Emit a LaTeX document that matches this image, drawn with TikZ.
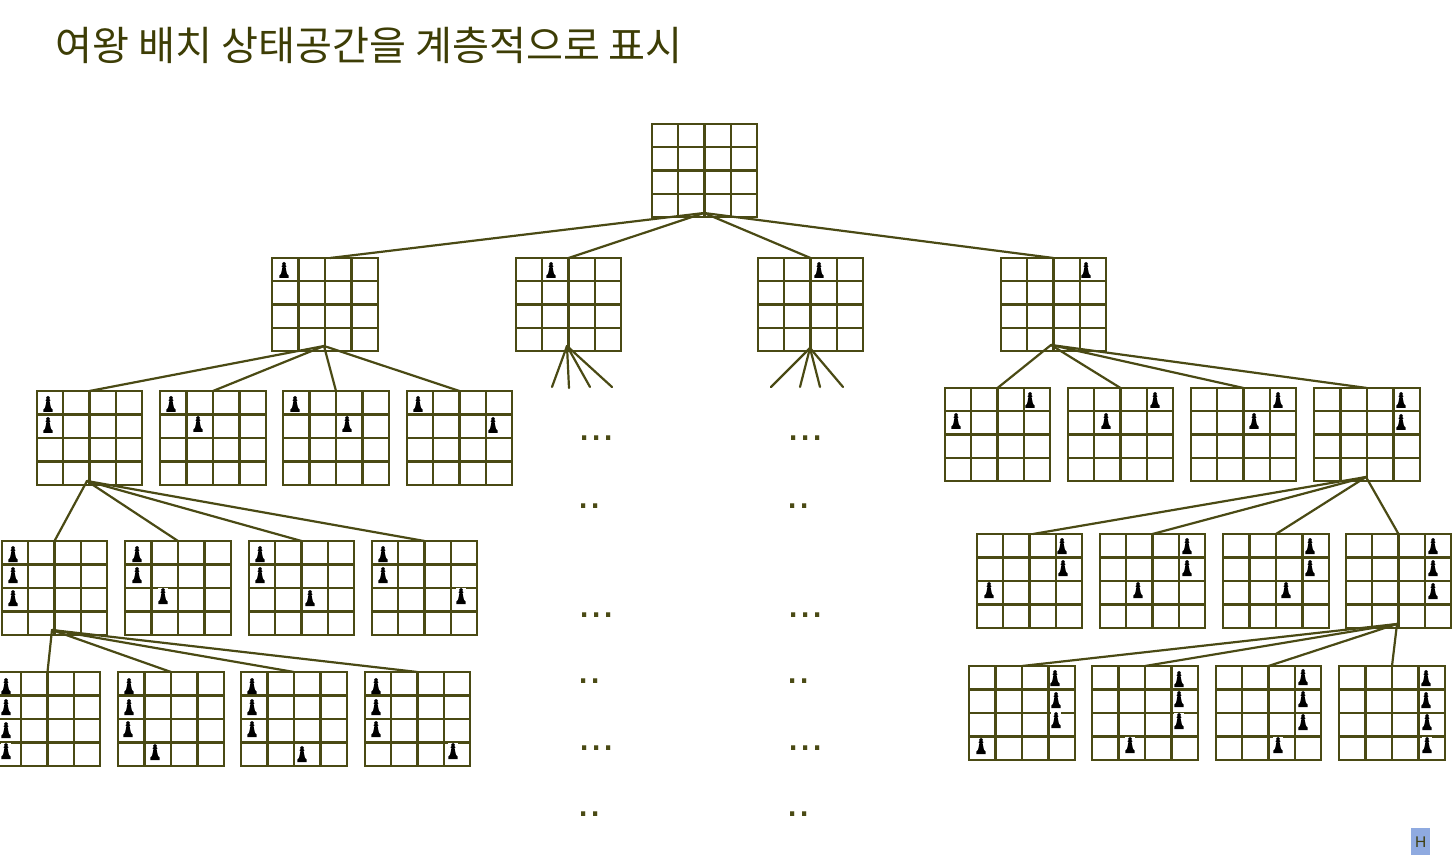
\documentclass[tikz,border=0pt]{standalone}
\usepackage{fontspec}
\newfontfamily\krfont{Noto Sans CJK KR}
\setmainfont{Liberation Sans}
\definecolor{ink}{HTML}{4A4A14}
\definecolor{titleink}{HTML}{3D3D05}
\definecolor{tagblue}{HTML}{8FAAE0}
\tikzset{
  boardbox/.style={draw=ink,line width=2.3pt,inner sep=0pt,outer sep=0pt},
  gridline/.style={draw=ink,line width=2.2pt},
  link/.style={draw=ink,line width=2.2pt,line cap=round},
  dotrow/.style={text=ink,inner sep=0pt,font=\fontsize{44}{44}\selectfont},
}
\newcommand{\boardat}[5]{%
  \node[boardbox,minimum width=#4pt-#2pt,minimum height=#5pt-#3pt,anchor=north west] (#1) at (#2,#3) {};
  \pgfmathsetmacro{\bw}{(#4-#2)/4}\pgfmathsetmacro{\bh}{(#5-#3)/4}
  \foreach \k in {1,2,3}{
    \draw[gridline] ({#2+\k*\bw},#3) -- ({#2+\k*\bw},#5);
    \draw[gridline] (#2,{#3+\k*\bh}) -- (#4,{#3+\k*\bh});
  }}
\newcommand{\piece}[2]{%
  \begin{scope}[shift={(#1,#2)}]
    \fill[white] (-4.6,-8.2) rectangle (4.6,8.2);
    \fill[black] (-4.6,8) -- (4.6,8) -- (4.6,5.6) -- (2.9,3.6) -- (1.5,-3) -- (2.6,-3.8) -- (1.5,-4.6)
      .. controls (2.4,-6) and (1.8,-8) .. (0,-8) .. controls (-1.8,-8) and (-2.4,-6) .. (-1.5,-4.6)
      -- (-2.6,-3.8) -- (-1.5,-3) -- (-2.9,3.6) -- (-4.6,5.6) -- cycle;
  \end{scope}}
\begin{document}
\begin{tikzpicture}[x=1pt,y=-1pt]
\useasboundingbox (0,0) rectangle (1452,858);
\node[anchor=west,inner sep=0pt,text=titleink,font=\krfont\fontsize{40.2}{44}\selectfont] (title) at (55,45) {여왕 배치 상태공간을 계층적으로 표시};

% boards
\boardat{r}{652}{124}{757}{217}
\boardat{a}{272}{258}{378}{351}
\boardat{b}{516}{258}{621}{351}
\boardat{c}{758}{258}{863}{351}
\boardat{d}{1001}{258}{1106}{351}
\boardat{aa}{37}{391}{142}{485}
\boardat{ab}{160}{391}{266}{485}
\boardat{ac}{283}{391}{389}{485}
\boardat{ad}{407}{391}{512}{485}
\boardat{da}{945}{388}{1050}{481}
\boardat{db}{1068}{388}{1173}{481}
\boardat{dc}{1191}{388}{1296}{481}
\boardat{dd}{1314}{388}{1420}{481}
\boardat{aaa}{2}{541}{107}{635}
\boardat{aab}{125}{541}{231}{635}
\boardat{aac}{249}{541}{354}{635}
\boardat{aad}{372}{541}{477}{635}
\boardat{dda}{977}{534}{1082}{628}
\boardat{ddb}{1100}{534}{1205}{628}
\boardat{ddc}{1223}{534}{1329}{628}
\boardat{ddd}{1346}{534}{1451}{628}
\boardat{aaaa}{-5}{672}{100}{766}
\boardat{aaab}{118}{672}{224}{766}
\boardat{aaac}{241}{672}{347}{766}
\boardat{aaad}{365}{672}{470}{766}
\boardat{ddda}{969}{666}{1075}{760}
\boardat{dddb}{1092}{666}{1198}{760}
\boardat{dddc}{1216}{666}{1321}{760}
\boardat{dddd}{1339}{666}{1445}{760}

% pieces
\foreach \px/\py in {284/270,551/270,819/270,1086/270,
 48/404,48/425,171/404,198/424,295/404,347/424,418/404,493/425,
 1030/400,956/421,1155/400,1106/421,1278/400,1254/421,1401/400,1401/422,
 13/554,13/575,13/598,137/554,137/575,163/596,260/554,260/575,310/598,383/554,383/575,461/596,
 1062/546,1063/568,989/590,1187/546,1187/568,1138/590,1310/546,1310/568,1286/590,1433/546,1433/568,1433/591,
 6/686,6/707,6/730,6/751,129/686,129/707,128/729,155/752,252/686,252/707,252/729,302/754,376/686,376/707,376/729,453/751,
 1055/678,1056/700,1056/720,981/746,1179/679,1179/699,1179/721,1130/745,1303/677,1303/699,1303/722,1278/745,1426/678,1426/700,1427/722,1427/745}
 {\piece{\px}{\py}}

% connector hubs and ends
\coordinate (rh) at (704,213);
\coordinate (ah) at (324,346);
\coordinate (bh) at (567,346);
\coordinate (ch) at (810,348);
\coordinate (dh) at (1051,345);
\coordinate (aah) at (87,481);
\coordinate (ddh) at (1366,477);
\coordinate (aaah) at (52,630);
\coordinate (dddh) at (1397,624);
\coordinate (b1) at (552,387);
\coordinate (b2) at (569,388);
\coordinate (b3) at (590,387);
\coordinate (b4) at (612,387);
\coordinate (c1) at (771,387);
\coordinate (c2) at (800,387);
\coordinate (c3) at (820,387);
\coordinate (c4) at (843,387);

\draw[link] (rh) -- ([xshift=5pt]a.north);
\draw[link] (rh) -- (b.north);
\draw[link] (rh) -- (c.north);
\draw[link] (rh) -- (d.north);
\draw[link] (ah) -- (aa.north);
\draw[link] (ah) -- (ab.north);
\draw[link] (ah) -- (ac.north);
\draw[link] (ah) -- (ad.north);
\draw[link] (bh) -- (b1);
\draw[link] (bh) -- (b2);
\draw[link] (bh) -- (b3);
\draw[link] (bh) -- (b4);
\draw[link] (ch) -- (c1);
\draw[link] (ch) -- (c2);
\draw[link] (ch) -- (c3);
\draw[link] (ch) -- (c4);
\draw[link] (dh) -- (da.north);
\draw[link] (dh) -- (db.north);
\draw[link] (dh) -- (dc.north);
\draw[link] (dh) -- (dd.north);
\draw[link] (aah) -- (aaa.north);
\draw[link] (aah) -- (aab.north);
\draw[link] (aah) -- (aac.north);
\draw[link] (aah) -- (aad.north);
\draw[link] (ddh) -- ([xshift=3.5pt]dda.north);
\draw[link] (ddh) -- (ddb.north);
\draw[link] (ddh) -- (ddc.north);
\draw[link] (ddh) -- (ddd.north);
\draw[link] (aaah) -- (aaaa.north);
\draw[link] (aaah) -- (aaab.north);
\draw[link] (aaah) -- (aaac.north);
\draw[link] (aaah) -- (aaad.north);
\draw[link] (dddh) -- (ddda.north);
\draw[link] (dddh) -- (dddb.north);
\draw[link] (dddh) -- (dddc.north);
\draw[link] (dddh) -- (dddd.north);

% dots
\foreach \n/\yy/\zz in {1/436/504,2/612/679,3/745/812}{
  \node[dotrow,anchor=base west] (l\n a) at (578,{\yy+5}) {...};
  \node[dotrow,anchor=base west] (l\n b) at (577,{\zz+4}) {..};
  \node[dotrow,anchor=base west] (m\n a) at (787,{\yy+5}) {...};
  \node[dotrow,anchor=base west] (m\n b) at (786,{\zz+4}) {..};
}

% tag
\node[fill=tagblue,minimum width=19pt,minimum height=27pt,inner sep=0pt,text=ink!85!black,font=\fontsize{15.5}{15.5}\selectfont,anchor=north west] (tag) at (1411,828) {\raisebox{-3pt}{H}};
\end{tikzpicture}
\end{document}
